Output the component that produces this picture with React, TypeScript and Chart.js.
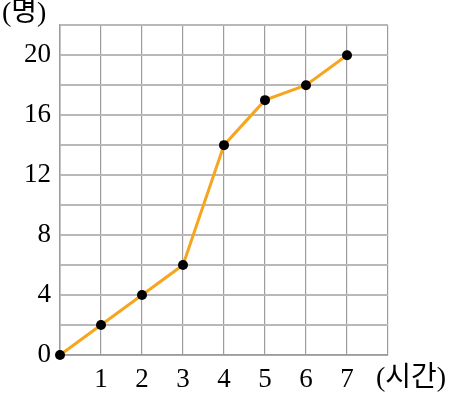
import React, { useEffect, useRef } from "react";
import { Chart, registerables } from "chart.js";

Chart.register(...registerables);

const hours = [0, 1, 2, 3, 4, 5, 6, 7];
const people = [0, 2, 4, 6, 14, 17, 18, 20];
const xTickLabels = ["1", "2", "3", "4", "5", "6", "7"];
const yTickLabels = ["0", "4", "8", "12", "16", "20"];
const xUnit = "(시간)";
const yUnit = "(명)";

const FONT = "'Liberation Serif', 'Noto Sans CJK KR', serif";

const unitPlugin = {
  id: "units",
  afterDraw(chart: any) {
    const ctx = chart.ctx;
    const xs = chart.scales.x;
    ctx.save();
    ctx.fillStyle = "#000";
    ctx.font = `28px ${FONT}`;
    ctx.textBaseline = "middle";
    ctx.textAlign = "left";
    ctx.fillText(xUnit, xs.getPixelForValue(7) + 29, xs.top + 24);
    ctx.fillText(yUnit, 2, 14);
    ctx.restore();
  },
};

export default function App() {
  const ref = useRef<HTMLCanvasElement | null>(null);
  useEffect(() => {
    if (!ref.current) return;
    const chart = new Chart(ref.current, {
      type: "line",
      data: {
        datasets: [
          {
            data: hours.map((h, i) => ({ x: h, y: people[i] })),
            borderColor: "#f5a61e",
            borderWidth: 3,
            pointBackgroundColor: "#000",
            pointBorderColor: "#000",
            pointRadius: 5,
            pointBorderWidth: 0,
            tension: 0,
            clip: false as any,
          },
        ],
      },
      options: {
        animation: false,
        responsive: false,
        maintainAspectRatio: false,
        layout: { padding: { top: 23, right: 64, left: 0, bottom: 0 } },
        plugins: { legend: { display: false }, tooltip: { enabled: false } },
        scales: {
          x: {
            type: "linear",
            min: 0,
            max: 8,
            ticks: {
              stepSize: 1,
              color: "#000",
              font: { family: FONT, size: 27 },
              padding: 9,
              maxRotation: 0,
              autoSkip: false,
              callback: (v: any) => {
                const s = String(v);
                return xTickLabels.includes(s) ? s : "";
              },
            },
            grid: { color: "#9c9c9c", lineWidth: 1.2, drawTicks: false },
            border: { color: "#9c9c9c", width: 1.5 },
            afterFit: (s: any) => {
              s.height = 43;
            },
          },
          y: {
            type: "linear",
            min: 0,
            max: 22,
            ticks: {
              stepSize: 2,
              color: "#000",
              font: { family: FONT, size: 27 },
              padding: 9,
              autoSkip: false,
              callback: (v: any) => {
                const s = String(v);
                return yTickLabels.includes(s) ? s : "";
              },
            },
            grid: { color: "#b8b8b8", lineWidth: 2, drawTicks: false },
            border: { color: "#9c9c9c", width: 1.5 },
            afterFit: (s: any) => {
              s.width = 60;
            },
          },
        },
      },
      plugins: [unitPlugin],
    });
    return () => chart.destroy();
  }, []);
  return (
    <div style={{ position: "fixed", left: 0, top: 0, width: 452, height: 398, background: "#fff" }}>
      <canvas ref={ref} width={452} height={398} style={{ display: "block" }} />
    </div>
  );
}
